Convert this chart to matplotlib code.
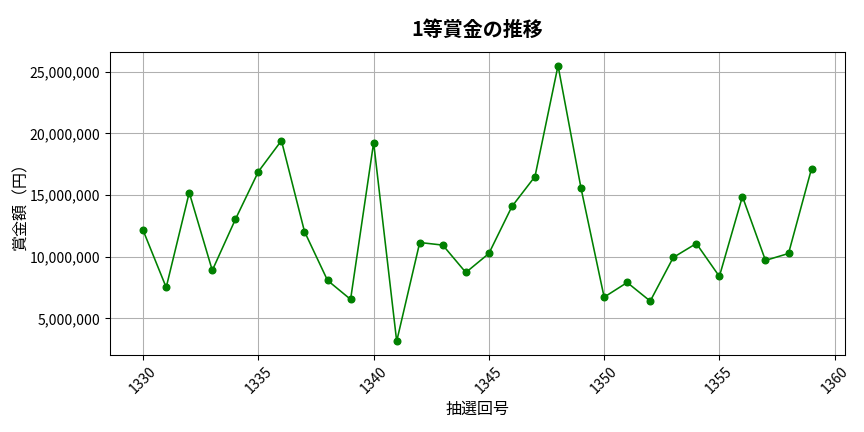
import matplotlib
matplotlib.use("Agg")
import matplotlib.pyplot as plt
from matplotlib.ticker import FuncFormatter

plt.rcParams['font.family'] = ['Noto Sans CJK JP', 'DejaVu Sans']

# --- データ ---
draws = list(range(1330, 1360))
prize = [12130000, 7510000, 15200000, 8890000, 13020000, 16900000, 19410000, 12040000,
         8080000, 6540000, 19250000, 3140000, 11150000, 10940000, 8720000, 10260000,
         14070000, 16500000, 25490000, 15530000, 6720000, 7910000, 6400000, 9940000,
         11070000, 8400000, 14880000, 9700000, 10260000, 17150000]

fig, ax = plt.subplots(figsize=(9, 4.5), dpi=96)
ax.plot(draws, prize, color='green', marker='o', markersize=5, linewidth=1.2)
ax.set_title('1等賞金の推移', fontsize=15, fontweight='bold', pad=12)
ax.set_xlabel('抽選回号', fontsize=12, labelpad=3)
ax.set_ylabel('賞金額（円）', fontsize=12, labelpad=0)
ax.yaxis.set_major_formatter(FuncFormatter(lambda y, _: f'{int(y):,}'))
ax.set_xticks([1330, 1335, 1340, 1345, 1350, 1355, 1360])
ax.tick_params(labelsize=10.5)
plt.xticks(rotation=45)
ax.grid(True, color='#b0b0b0', linewidth=0.8)
plt.subplots_adjust(left=0.127, right=0.978, top=0.880, bottom=0.178)
plt.savefig('out.png')
